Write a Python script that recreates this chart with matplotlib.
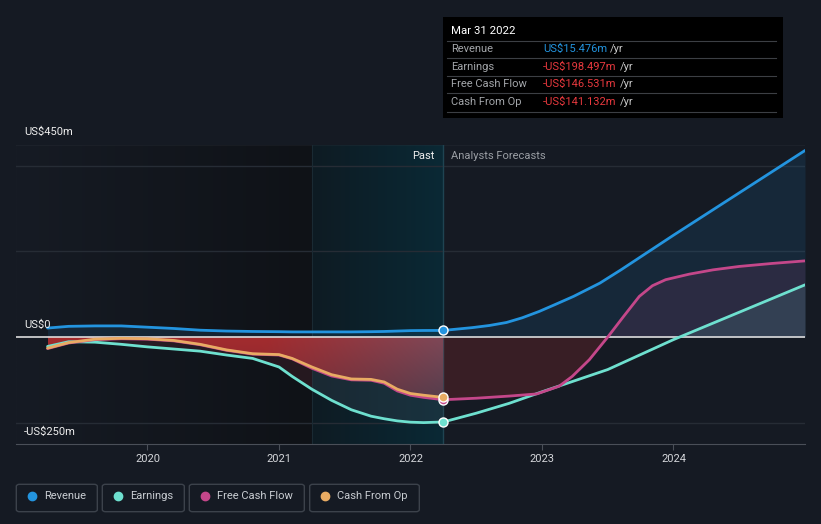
import numpy as np
import matplotlib.pyplot as plt
from matplotlib.patches import FancyBboxPatch, Polygon
from matplotlib.colors import to_rgb

plt.rcParams['font.family'] = ['Roboto', 'DejaVu Sans']

# === Data (US$m, time in decimal years) ===
past_x = [2019.24, 2019.4, 2019.6, 2019.8, 2020.0, 2020.2, 2020.4, 2020.6, 2020.8,
          2021.0, 2021.1, 2021.25, 2021.4, 2021.55, 2021.7, 2021.8, 2021.9,
          2022.0, 2022.1, 2022.25]
rev_past = [21, 25, 26, 26, 23, 20, 16, 14, 13,
            12.5, 12, 12, 12, 12, 12.5, 13, 14,
            15, 15.3, 15.476]
earn_past = [-22, -11, -12, -17, -23, -28, -33, -42, -50,
             -70, -92, -122, -148, -170, -185, -191, -196,
             -199, -200, -198.497]
cfo_past = [-26, -13, -5, -3, -4, -8, -17, -30, -39,
            -41, -50, -70, -88, -98, -99, -105, -122,
            -132, -136, -141.132]
fcf_past = [-27, -14, -6, -4, -5, -9, -18, -31, -40,
            -42, -51, -73, -91, -100, -101, -108, -126,
            -136, -141, -146.531]

rev_fc_x = [2022.25, 2022.47, 2022.6, 2022.73, 2022.85, 2022.98, 2023.1, 2023.24,
            2023.44, 2023.6, 2024.0, 2024.5, 2025.0]
rev_fc = [15.476, 22, 27, 34, 45, 60, 76, 95,
          126, 157, 238, 337, 436]

earn_fc_x = [2022.25, 2022.5, 2022.75, 2023.0, 2023.25, 2023.5, 2024.0, 2024.5, 2025.0]
earn_fc = [-198.497, -178, -155, -128, -102, -76, -6, 58, 122]

fcf_fc_x = [2022.25, 2022.5, 2022.75, 2022.96, 2023.13, 2023.23, 2023.36, 2023.5,
            2023.62, 2023.74, 2023.84, 2023.94, 2024.12, 2024.3, 2024.5, 2024.75, 2025.0]
fcf_fc = [-146.531, -143, -138, -133, -115, -92, -53, 0,
          48, 95, 120, 134, 147, 157, 165, 172, 178]

now_x = 2022.25
hl_start = 2021.25

tooltip_rows = [("Revenue", "US$15.476m"), ("Earnings", "-US$198.497m"),
                ("Free Cash Flow", "-US$146.531m"), ("Cash From Op", "-US$141.132m")]
legend_names = ["Revenue", "Earnings", "Free Cash Flow", "Cash From Op"]

# === Style ===
BG = '#151a23'
C_REV = '#2394df'
C_EARN = '#6ee0cf'
C_FCF = '#c4478a'
C_CFO = '#e8ab63'
C_RED = '#e8393e'
colors = [C_REV, C_EARN, C_FCF, C_CFO]

W, H = 821, 524
fig = plt.figure(figsize=(W / 100, H / 100), dpi=100)
fig.patch.set_facecolor(BG)
ax = fig.add_axes([16 / W, (H - 444) / H, (805 - 16) / W, (444 - 144.5) / H])
ax.set_facecolor(BG)


def hgrad(c1, c2, n=256):
    a, b = np.array(to_rgb(c1)), np.array(to_rgb(c2))
    t = np.linspace(0, 1, n)[None, :, None]
    return a + (b - a) * t


# background: darkening past, highlighted last year
ax.imshow(hgrad('#161b24', '#0f1217'), extent=[2019, hl_start, -250, 450],
          aspect='auto', zorder=0, interpolation='bilinear')
ax.imshow(hgrad('#0e1b23', '#0a2935'), extent=[hl_start, now_x, -250, 450],
          aspect='auto', zorder=0, interpolation='bilinear')

# gridlines
for yv in [-200, 200, 400]:
    ax.axhline(yv, color='#262c35', lw=1, zorder=1)
ax.axhline(450, color='#3a3f47', lw=1, zorder=1)
ax.axvline(hl_start, color='#1a2a33', lw=0.8, zorder=1)
ax.axvline(now_x, color='#1f4452', lw=1, zorder=1)

# full series
rev_x = past_x + rev_fc_x[1:]
rev_y = rev_past + rev_fc[1:]
earn_x = past_x + earn_fc_x[1:]
earn_y = earn_past + earn_fc[1:]
fcf_x = past_x + fcf_fc_x[1:]
fcf_y = fcf_past + fcf_fc[1:]

# fills
ax.fill_between(rev_x, rev_y, 0, color=C_REV, alpha=0.12, lw=0, zorder=2)
ax.fill_between(past_x[:12], earn_past[:12], 0, color='#6a2a38', alpha=0.25, lw=0, zorder=2)
ax.fill_between(past_x[11:], earn_past[11:], 0, color='#3a4a58', alpha=0.3, lw=0, zorder=2)
fx, fy = np.array(fcf_fc_x), np.array(fcf_fc)
ax.fill_between(fx, fy, 0, where=fy >= 0, interpolate=True, color=C_FCF,
                alpha=0.12, lw=0, zorder=2)
ax.fill_between(fx, fy, 0, where=fy <= 0, interpolate=True, color='#c83232',
                alpha=0.2, lw=0, zorder=2)
ex, ey = np.array(earn_fc_x), np.array(earn_fc)
ax.fill_between(ex, ey, 0, where=ey >= 0, interpolate=True, color=C_EARN,
                alpha=0.12, lw=0, zorder=2)

# red gradient area for past cash flow
n = 64
tl, tr = np.array([0.64, 0.17, 0.18]), np.array([0.50, 0.28, 0.34])
bl, br = np.array([0.50, 0.16, 0.19]), np.array([0.33, 0.24, 0.30])
u = np.clip((np.linspace(0, 1, n) - 0.55) / 0.45, 0, 1)[None, :, None]
v = np.linspace(0, 1, n)[:, None, None]
img = (tl * (1 - u) + tr * u) * (1 - v) + (bl * (1 - u) + br * u) * v
red_poly = Polygon(list(zip(past_x, cfo_past)) + [(now_x, 0), (past_x[0], 0)],
                   closed=True, transform=ax.transData)
im = ax.imshow(img, extent=[past_x[0], now_x, -150, 0], aspect='auto',
               zorder=3, interpolation='bilinear')
im.set_clip_path(red_poly)
ax.set_xlim(2019, 2025)
ax.set_ylim(-250, 450)

# zero line
ax.axhline(0, color='#dcdcdc', lw=1.2, zorder=4)

# lines
lw = 2.0
ax.plot(earn_x, earn_y, color=C_EARN, lw=lw, zorder=5, solid_capstyle='round')
ax.plot(fcf_x, fcf_y, color=C_FCF, lw=lw, zorder=6, solid_capstyle='round')
ax.plot(past_x, cfo_past, color=C_CFO, lw=lw, zorder=7, solid_capstyle='round')
ax.plot(rev_x, rev_y, color=C_REV, lw=lw, zorder=8, solid_capstyle='round')

# markers at present
for yv, c in [(earn_past[-1], C_EARN), (fcf_past[-1], C_FCF),
              (cfo_past[-1], C_CFO), (rev_past[-1], C_REV)]:
    ax.plot([now_x], [yv], 'o', ms=6.5, mfc=c, mec='white', mew=1.0, zorder=9)

# axes styling
for s in ['top', 'right', 'left']:
    ax.spines[s].set_visible(False)
ax.spines['bottom'].set_color('#4a4f58')
ax.set_yticks([])
ax.set_xticks([2020, 2021, 2022, 2023, 2024])
ax.set_xticklabels(['2020', '2021', '2022', '2023', '2024'])
ax.tick_params(axis='x', colors='#4a4f58', labelcolor='#d4d6da', length=4,
               labelsize=8, pad=3)


def fy_(px):
    return (H - px) / H


# y labels
for lab, py in [("US$450m", 132), ("US$0", 325), ("-US$250m", 432)]:
    fig.text(24 / W, fy_(py), lab, color='#eeeeee', fontsize=8, va='center', ha='left')

fig.text(434.5 / W, fy_(156), "Past", color='#eeeeee', fontsize=8, va='center', ha='right')
fig.text(451 / W, fy_(156), "Analysts Forecasts", color='#9a9ea4', fontsize=8,
         va='center', ha='left')

# tooltip box
fig.patches.append(FancyBboxPatch((443 / W, fy_(118)), 340 / W, 101 / H,
                                  boxstyle='square,pad=0', transform=fig.transFigure,
                                  facecolor='black', edgecolor='none', zorder=10))
fig.text(451 / W, fy_(31), "Mar 31 2022", color='white', fontsize=8.2,
         va='center', ha='left', zorder=11)
for py in [41, 58.3, 76, 93.3, 111.7]:
    fig.add_artist(plt.Line2D([447 / W, 776 / W], [fy_(py), fy_(py)], color='#3c3f44',
                              lw=0.8, transform=fig.transFigure, zorder=11))
renderer = fig.canvas.get_renderer()
for (lab, val), py in zip(tooltip_rows, [49.3, 66.7, 84.3, 101.7]):
    fig.text(451 / W, fy_(py), lab, color='#a3a6aa', fontsize=8, va='center',
             ha='left', zorder=11)
    t = fig.text(543 / W, fy_(py), val, color=C_RED if val.startswith('-') else C_REV,
                 fontsize=8, va='center', ha='left', zorder=11)
    bb = t.get_window_extent(renderer)
    fig.text(bb.x1 / W + 3 / W, fy_(py), "/yr", color='#c8c8c8', fontsize=8,
             va='center', ha='left', zorder=11)

# legend boxes
boxes = [(16.3, 97.3, 32, 44.3), (102.3, 184.3, 118, 130),
         (189.3, 304.3, 205, 217), (309.7, 419.3, 324.7, 337)]
for (x0, x1, dx, tx), name, c in zip(boxes, legend_names, colors):
    fig.patches.append(FancyBboxPatch((x0 / W, fy_(511.7)), (x1 - x0) / W, 27.4 / H,
                                      boxstyle='round,pad=0,rounding_size=0.004',
                                      transform=fig.transFigure, facecolor=BG,
                                      edgecolor='#3c424b', lw=1))
    fig.add_artist(plt.Line2D([dx / W], [fy_(496)], marker='o', ms=6, color=c,
                              mec=c, transform=fig.transFigure))
    fig.text(tx / W, fy_(496), name, color='#c9cdd2', fontsize=8, va='center', ha='left')

fig.savefig('out.png', dpi=100, facecolor=BG)
